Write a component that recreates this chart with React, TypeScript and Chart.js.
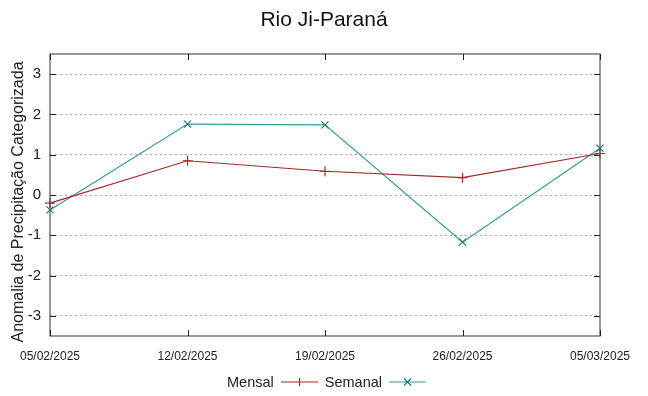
import React, { useEffect, useRef } from "react";
import { Chart, registerables } from "chart.js";

Chart.register(...registerables);

const title = "Rio Ji-Paraná";
const yAxisTitle = "Anomalia de Precipitação Categorizada";
const categories = ["05/02/2025", "12/02/2025", "19/02/2025", "26/02/2025", "05/03/2025"];
const mensal = [-0.2, 0.85, 0.59, 0.43, 1.03];
const semanal = [-0.37, 1.76, 1.74, -1.17, 1.16];
const yTicks = [-3, -2, -1, 0, 1, 2, 3];

const RED = "#a82828";
const TEAL = "#3a9a9a";
const TEAL_DARK = "#1a7474";
const FONT = "'Liberation Sans', Arial, sans-serif";

const framePlugin = {
  id: "frame",
  afterDatasetsDraw(chart: any) {
    const { ctx, chartArea: a, scales } = chart;
    ctx.save();
    ctx.strokeStyle = "#555";
    ctx.lineWidth = 1.2;
    ctx.strokeRect(a.left, a.top, a.right - a.left, a.bottom - a.top);
    ctx.lineWidth = 1;
    ctx.strokeStyle = "#222";
    ctx.beginPath();
    for (const v of yTicks) {
      const y = Math.round(scales.y.getPixelForValue(v)) + 0.5;
      ctx.moveTo(a.left, y);
      ctx.lineTo(a.left + 6, y);
      ctx.moveTo(a.right, y);
      ctx.lineTo(a.right - 6, y);
    }
    categories.forEach((_, i) => {
      const x = Math.round(scales.x.getPixelForValue(i)) + 0.5;
      ctx.moveTo(x, a.bottom);
      ctx.lineTo(x, a.bottom - 6);
      ctx.moveTo(x, a.top);
      ctx.lineTo(x, a.top + 6);
    });
    ctx.stroke();
    ctx.restore();
  },
};

function LegendItem({ label, color, markerColor, marker }: { label: string; color: string; markerColor: string; marker: string }) {
  return (
    <span style={{ display: "inline-flex", alignItems: "center", marginRight: 7 }}>
      <span style={{ fontFamily: FONT, fontSize: 14.5, color: "#222", marginRight: 7 }}>{label}</span>
      <svg width={37} height={12} style={{ display: "block" }}>
        <line x1={0} y1={6} x2={37} y2={6} stroke={color} strokeWidth={1.2} />
        {marker === "plus" ? (
          <g stroke={markerColor} strokeWidth={1.2}>
            <line x1={18.5} y1={2} x2={18.5} y2={10} />
          </g>
        ) : (
          <g stroke={markerColor} strokeWidth={1.1}>
            <line x1={15} y1={2.5} x2={22} y2={9.5} />
            <line x1={15} y1={9.5} x2={22} y2={2.5} />
          </g>
        )}
      </svg>
    </span>
  );
}

export default function App() {
  const ref = useRef<HTMLCanvasElement | null>(null);

  useEffect(() => {
    if (!ref.current) return;
    const chart = new Chart(ref.current, {
      type: "line",
      data: {
        labels: categories,
        datasets: [
          {
            label: "Mensal",
            data: mensal,
            borderColor: RED,
            backgroundColor: RED,
            borderWidth: 1.2,
            pointStyle: "cross",
            rotation: 0,
            pointRadius: 5,
            pointBorderColor: RED,
            pointBorderWidth: 1.2,
            tension: 0,
          },
          {
            label: "Semanal",
            data: semanal,
            borderColor: TEAL,
            backgroundColor: TEAL_DARK,
            borderWidth: 1.2,
            pointStyle: "cross",
            rotation: 45,
            pointRadius: 5,
            pointBorderColor: TEAL_DARK,
            pointBorderWidth: 1.1,
            tension: 0,
          },
        ],
      },
      options: {
        animation: false,
        responsive: false,
        layout: { padding: { left: 0, right: 48, top: 54, bottom: 0 } },
        plugins: {
          legend: { display: false },
          tooltip: { enabled: false },
          title: { display: false },
        },
        scales: {
          x: {
            type: "category",
            offset: false,
            grid: { display: false, drawTicks: false },
            border: { display: false },
            ticks: {
              color: "#222",
              font: { family: FONT, size: 12 },
              padding: 13,
              maxRotation: 0,
              autoSkip: false,
            },
            afterFit: (s: any) => {
              s.height = 60;
            },
          },
          y: {
            min: -3.5,
            max: 3.5,
            afterBuildTicks: (s: any) => {
              s.ticks = yTicks.map((v) => ({ value: v }));
            },
            grid: { color: "#b0b0b0", lineWidth: 1, drawTicks: false },
            border: { display: false, dash: [2, 3] },
            ticks: {
              color: "#222",
              font: { family: FONT, size: 15 },
              padding: 9,
            },
            title: { display: false },
            afterFit: (s: any) => {
              s.width = 50;
            },
          },
        },
      },
      plugins: [framePlugin],
    });
    return () => chart.destroy();
  }, []);

  return (
    <div style={{ position: "fixed", left: 0, top: 0, width: 648, height: 396, background: "#fff" }}>
      <canvas ref={ref} width={648} height={396} style={{ display: "block" }} />
      <div
        style={{
          position: "absolute",
          left: 0,
          top: 6,
          width: 648,
          textAlign: "center",
          fontFamily: FONT,
          fontSize: 21,
          lineHeight: "26px",
          color: "#111",
        }}
      >
        {title}
      </div>
      <div
        style={{
          position: "absolute",
          left: 18,
          top: 202,
          width: 300,
          height: 20,
          marginLeft: -150,
          marginTop: -10,
          transform: "rotate(-90deg)",
          textAlign: "center",
          fontFamily: FONT,
          fontSize: 16,
          lineHeight: "20px",
          color: "#222",
          whiteSpace: "nowrap",
        }}
      >
        {yAxisTitle}
      </div>
      <div style={{ position: "absolute", left: 227, top: 374, display: "flex", alignItems: "center" }}>
        <LegendItem label="Mensal" color={RED} markerColor={RED} marker="plus" />
        <LegendItem label="Semanal" color={TEAL} markerColor={TEAL_DARK} marker="cross" />
      </div>
    </div>
  );
}
